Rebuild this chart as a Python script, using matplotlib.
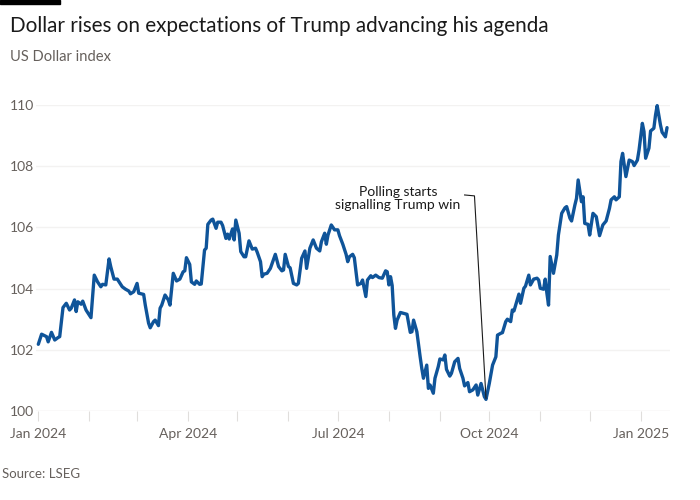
import matplotlib
matplotlib.use("Agg")
import matplotlib.pyplot as plt
import matplotlib.dates as mdates
import pandas as pd
import numpy as np

plt.rcParams['font.family'] = ['Lato', 'DejaVu Sans']

title = "Dollar rises on expectations of Trump advancing his agenda"
subtitle = "US Dollar index"
source = "Source: LSEG"
annotation_text = "Polling starts\nsignalling Trump win"

dates = [
    "2024-01-01", "2024-01-03", "2024-01-06", "2024-01-07", "2024-01-09", "2024-01-11", "2024-01-13", "2024-01-14",
    "2024-01-16", "2024-01-18", "2024-01-20", "2024-01-21", "2024-01-23", "2024-01-24", "2024-01-25", "2024-01-27",
    "2024-01-28", "2024-01-30", "2024-02-02", "2024-02-04", "2024-02-06", "2024-02-08", "2024-02-09", "2024-02-11",
    "2024-02-13", "2024-02-14", "2024-02-16", "2024-02-18", "2024-02-21", "2024-02-23", "2024-02-25", "2024-02-26",
    "2024-02-28", "2024-03-01", "2024-03-02", "2024-03-05", "2024-03-06", "2024-03-08", "2024-03-09", "2024-03-11",
    "2024-03-12", "2024-03-14", "2024-03-15", "2024-03-16", "2024-03-18", "2024-03-20", "2024-03-21", "2024-03-23",
    "2024-03-25", "2024-03-27", "2024-03-29", "2024-03-30", "2024-03-31", "2024-04-02", "2024-04-03", "2024-04-05",
    "2024-04-06", "2024-04-08", "2024-04-09", "2024-04-11", "2024-04-12", "2024-04-13", "2024-04-15", "2024-04-16",
    "2024-04-18", "2024-04-19", "2024-04-21", "2024-04-22", "2024-04-24", "2024-04-25", "2024-04-26", "2024-04-28",
    "2024-04-29", "2024-04-30", "2024-05-02", "2024-05-03", "2024-05-05", "2024-05-06", "2024-05-08", "2024-05-10",
    "2024-05-12", "2024-05-13", "2024-05-15", "2024-05-16", "2024-05-17", "2024-05-19", "2024-05-21", "2024-05-24",
    "2024-05-26", "2024-05-28", "2024-05-29", "2024-05-30", "2024-06-01", "2024-06-02", "2024-06-04", "2024-06-06",
    "2024-06-07", "2024-06-09", "2024-06-11", "2024-06-12", "2024-06-14", "2024-06-16", "2024-06-18", "2024-06-20",
    "2024-06-21", "2024-06-23", "2024-06-24", "2024-06-25", "2024-06-27", "2024-06-29", "2024-07-01", "2024-07-02",
    "2024-07-04", "2024-07-06", "2024-07-07", "2024-07-08", "2024-07-10", "2024-07-11", "2024-07-13", "2024-07-15",
    "2024-07-16", "2024-07-18", "2024-07-19", "2024-07-21", "2024-07-22", "2024-07-24", "2024-07-26", "2024-07-28",
    "2024-07-30", "2024-07-31", "2024-08-01", "2024-08-02", "2024-08-03", "2024-08-04", "2024-08-05", "2024-08-06",
    "2024-08-08", "2024-08-10", "2024-08-12", "2024-08-14", "2024-08-15", "2024-08-16", "2024-08-18", "2024-08-20",
    "2024-08-21", "2024-08-22", "2024-08-24", "2024-08-25", "2024-08-26", "2024-08-28", "2024-08-29", "2024-08-31",
    "2024-09-01", "2024-09-03", "2024-09-04", "2024-09-05", "2024-09-07", "2024-09-08", "2024-09-10", "2024-09-12",
    "2024-09-13", "2024-09-15", "2024-09-16", "2024-09-18", "2024-09-19", "2024-09-21", "2024-09-23", "2024-09-24",
    "2024-09-26", "2024-09-28", "2024-09-29", "2024-10-01", "2024-10-03", "2024-10-05", "2024-10-06", "2024-10-08",
    "2024-10-09", "2024-10-11", "2024-10-12", "2024-10-14", "2024-10-15", "2024-10-16", "2024-10-18", "2024-10-19",
    "2024-10-20", "2024-10-22", "2024-10-23", "2024-10-25", "2024-10-26", "2024-10-28", "2024-10-30", "2024-10-31",
    "2024-11-01", "2024-11-03", "2024-11-04", "2024-11-05", "2024-11-06", "2024-11-07", "2024-11-09", "2024-11-11",
    "2024-11-12", "2024-11-14", "2024-11-16", "2024-11-17", "2024-11-19", "2024-11-20", "2024-11-22", "2024-11-23",
    "2024-11-24", "2024-11-26", "2024-11-27", "2024-11-28", "2024-11-30", "2024-12-01", "2024-12-03", "2024-12-05",
    "2024-12-07", "2024-12-09", "2024-12-11", "2024-12-13", "2024-12-14", "2024-12-16", "2024-12-17", "2024-12-19",
    "2024-12-20", "2024-12-21", "2024-12-23", "2024-12-25", "2024-12-27", "2024-12-28", "2024-12-30", "2024-12-31",
    "2025-01-02", "2025-01-03", "2025-01-04", "2025-01-06", "2025-01-07", "2025-01-09", "2025-01-10", "2025-01-11",
    "2025-01-13", "2025-01-14", "2025-01-16", "2025-01-17",
]

dxy = [
    102.18, 102.51, 102.43, 102.26, 102.57, 102.32, 102.40, 102.43,
    103.38, 103.52, 103.30, 103.36, 103.63, 103.25, 103.57, 103.49,
    103.59, 103.30, 103.05, 104.44, 104.22, 104.06, 104.14, 104.12,
    104.97, 104.72, 104.31, 104.31, 104.06, 103.98, 103.92, 103.83,
    103.90, 104.17, 103.85, 103.81, 103.46, 102.87, 102.72, 102.92,
    102.97, 102.79, 103.36, 103.46, 103.79, 103.63, 103.46, 104.50,
    104.25, 104.31, 104.55, 104.58, 105.01, 104.79, 104.22, 104.14,
    104.25, 104.14, 104.15, 105.26, 105.32, 106.10, 106.24, 106.27,
    105.97, 106.17, 106.17, 106.06, 105.64, 105.78, 105.62, 105.95,
    105.59, 106.24, 105.81, 105.21, 105.04, 105.04, 105.56, 105.29,
    105.32, 105.19, 104.88, 104.39, 104.47, 104.50, 104.66, 105.12,
    104.72, 104.58, 104.61, 105.12, 104.72, 104.68, 104.17, 104.12,
    104.17, 104.99, 105.23, 104.66, 105.32, 105.59, 105.32, 105.23,
    105.53, 105.81, 105.45, 105.75, 106.08, 105.92, 105.92, 105.73,
    105.45, 105.12, 104.88, 105.04, 105.12, 105.01, 104.12, 104.17,
    104.28, 103.74, 104.28, 104.42, 104.36, 104.44, 104.36, 104.34,
    104.58, 104.55, 104.12, 104.39, 104.10, 103.14, 102.70, 102.97,
    103.22, 103.19, 103.16, 102.57, 102.59, 102.97, 102.59, 101.77,
    101.39, 101.07, 101.50, 100.74, 100.85, 100.58, 101.07, 101.45,
    101.70, 101.67, 101.83, 101.36, 101.14, 101.23, 101.61, 101.72,
    101.39, 101.07, 100.82, 100.93, 100.63, 100.69, 100.85, 100.52,
    100.90, 100.47, 100.38, 100.90, 101.50, 101.77, 102.48, 102.54,
    102.56, 102.92, 103.00, 102.92, 103.30, 103.27, 103.63, 103.82,
    103.52, 104.01, 104.08, 104.44, 104.12, 104.31, 104.34, 104.28,
    104.01, 103.98, 104.31, 103.85, 103.46, 105.05, 104.50, 105.10,
    105.75, 106.46, 106.64, 106.68, 106.30, 106.21, 106.73, 106.95,
    107.55, 106.84, 107.00, 106.13, 106.10, 105.75, 106.46, 106.35,
    105.73, 106.08, 106.21, 106.62, 106.90, 107.00, 106.90, 107.00,
    108.15, 108.42, 107.66, 108.20, 108.15, 108.02, 108.20, 108.53,
    109.40, 109.13, 108.26, 108.59, 109.15, 109.24, 109.67, 109.98,
    109.35, 109.11, 108.96, 109.26,
]

y_ticks = [100, 102, 104, 106, 108, 110]
x_tick_dates = ["2024-01-01", "2024-04-01", "2024-07-01", "2024-10-01", "2025-01-01"]
x_tick_labels = ["Jan 2024", "Apr 2024", "Jul 2024", "Oct 2024", "Jan 2025"]

x = pd.to_datetime(dates)

fig = plt.figure(figsize=(7, 5), dpi=100, facecolor="white")
ax = fig.add_axes([36 / 700, 89 / 500, 634 / 700, 306 / 500])
ax.set_facecolor("white")

grid_c = "#f3f2f1"
for yv in y_ticks:
    ax.axhline(yv, color=grid_c if yv != 100 else "#e6e4e2", lw=1, zorder=1)

ax.plot(x, dxy, color="#0f5499", lw=2.4, zorder=3, solid_joinstyle="round",
        solid_capstyle="round", clip_on=False)

start = mdates.date2num(pd.Timestamp("2024-01-01"))
ax.set_xlim(start - 1.4, start + 383.8)
ax.set_ylim(100, 110)

for s in ax.spines.values():
    s.set_visible(False)

ax.set_yticks(y_ticks)
ax.set_yticklabels([str(v) for v in y_ticks])
ax.tick_params(axis="y", length=0, pad=18.5, labelsize=10, labelcolor="#66605c")
for lab in ax.get_yticklabels():
    lab.set_horizontalalignment("left")

ax.set_xticks(pd.to_datetime(x_tick_dates))
ax.set_xticklabels(x_tick_labels)
ax.xaxis.set_minor_locator(mdates.MonthLocator())
ax.tick_params(axis="x", which="both", length=7, width=0.8, color="#e0dedc",
               pad=5, labelsize=10, labelcolor="#66605c")

# annotation
ann_x = pd.to_datetime(["2024-09-16", "2024-09-22", "2024-09-29"])
ann_y = [107.06, 107.03, 100.42]
ax.plot(ann_x, ann_y, color="#1a1a1a", lw=0.8, zorder=4)
ax.text(pd.Timestamp("2024-08-06 12:00"), 106.96, annotation_text, ha="center", va="center",
        multialignment="center", fontsize=10, color="#1a1a1a", zorder=5, linespacing=1.1)

fig.patches.append(plt.Rectangle((0, 1 - 4 / 500), 60 / 700, 4 / 500, transform=fig.transFigure,
                                 color="black", zorder=10))
fig.text(10 / 700, 1 - 26 / 500, title, fontsize=14.9, color="#1a1a1a", va="center", ha="left")
fig.text(10 / 700, 1 - 57 / 500, subtitle, fontsize=10.6, color="#66605c", va="center", ha="left")
fig.text(2 / 700, 1 - 474 / 500, source, fontsize=9.5, color="#66605c", va="center", ha="left")

fig.savefig("out.png", dpi=100, facecolor="white")
